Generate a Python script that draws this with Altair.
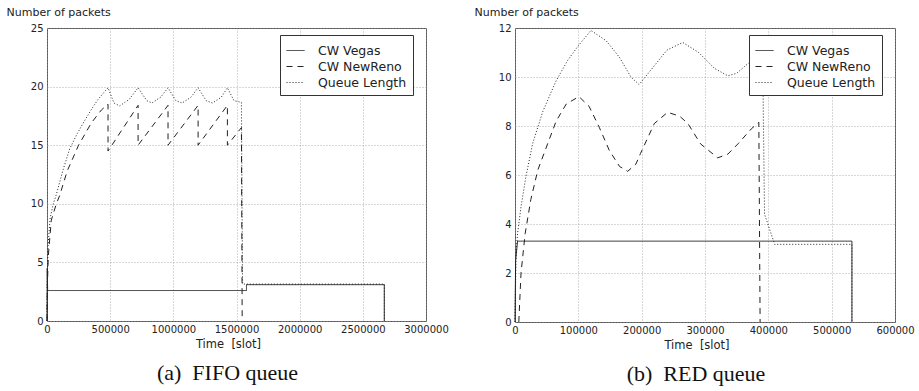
import altair as alt
import pandas as pd

series_names = ["CW Vegas", "CW NewReno", "Queue Length"]

# ---- (a) FIFO queue ----
fifo_vegas_t = [0, 2000, 5000, 1579000, 1579000, 2670000, 2670000]
fifo_vegas_v = [0, 4.5, 2.6, 2.6, 3.1, 3.1, 0]

fifo_reno_t = [0, 3000, 10000, 34000, 74000, 100000, 160000, 250000, 351000, 430000,
               483000, 483000, 721000, 721000, 958000, 958000, 1196000, 1196000,
               1428000, 1428000, 1539000, 1545000]
fifo_reno_v = [0, 3, 5.5, 8.6, 10.0, 10.7, 12.8, 15.0, 16.9, 18.0,
               18.5, 14.5, 18.4, 15.0, 18.4, 15.0, 18.4, 15.0,
               18.4, 15.0, 16.5, 0]

fifo_queue_t = [0, 2000, 8000, 25000, 50000, 74000, 127000, 180000, 240000, 298000,
                360000, 404000, 450000, 483000, 530000, 575000, 650000, 721000,
                790000, 830000, 900000, 958000, 1020000, 1070000, 1140000, 1196000,
                1260000, 1310000, 1380000, 1428000, 1480000, 1539000, 1548000,
                2670000, 2670000]
fifo_queue_v = [0, 3.5, 6.4, 8.8, 10.0, 10.8, 12.9, 14.7, 16.0, 17.1,
                18.2, 18.9, 19.5, 19.9, 18.6, 18.35, 18.9, 19.9,
                18.8, 18.6, 19.1, 19.9, 18.8, 18.6, 19.1, 19.9,
                18.8, 18.6, 19.1, 19.9, 18.8, 18.65, 3.15,
                3.15, 0]

# ---- (b) RED queue ----
red_vegas_t = [0, 1000, 4000, 532000, 532000]
red_vegas_v = [0, 2.5, 3.3, 3.3, 0]

red_reno_t = [6000, 9500, 16000, 25000, 36000, 49000, 65000, 81000, 101000, 117000,
              133000, 149000, 165000, 178000, 191000, 198000, 220000, 241000, 260000,
              273000, 293000, 320000, 336000, 352000, 373000, 385000, 387000]
red_reno_v = [0, 2.0, 3.6, 5.0, 6.2, 7.1, 8.2, 8.9, 9.2, 8.8,
              7.95, 7.0, 6.35, 6.15, 6.45, 6.87, 8.1, 8.56, 8.4,
              8.1, 7.27, 6.7, 6.85, 7.27, 7.88, 8.15, 0]

red_queue_t = [0, 1600, 4000, 9500, 17000, 28000, 44000, 65000, 83000, 100000,
               120000, 144000, 165000, 183000, 196000, 215000, 240000, 265000,
               290000, 315000, 336000, 350000, 367000, 391000, 394000, 410000,
               532000, 532000]
red_queue_v = [0, 2.8, 3.6, 4.7, 5.9, 7.3, 8.6, 9.85, 10.67, 11.28,
               11.9, 11.48, 10.8, 10.0, 9.69, 10.3, 11.1, 11.41,
               11.0, 10.35, 10.05, 10.15, 10.53, 10.9, 4.4, 3.17,
               3.17, 0]

fifo_xticks = [0, 500000, 1000000, 1500000, 2000000, 2500000, 3000000]
fifo_yticks = [0, 5, 10, 15, 20, 25]
red_xticks = [0, 100000, 200000, 300000, 400000, 500000, 600000]
red_yticks = [0, 2, 4, 6, 8, 10, 12]


def make_df(groups):
    rows = []
    for name, ts, vs in groups:
        for i, (t, v) in enumerate(zip(ts, vs)):
            rows.append({"series": name, "t": t, "v": v, "i": i})
    return pd.DataFrame(rows)


fifo_df = make_df([
    ("CW Vegas", fifo_vegas_t, fifo_vegas_v),
    ("CW NewReno", fifo_reno_t, fifo_reno_v),
    ("Queue Length", fifo_queue_t, fifo_queue_v),
])
red_df = make_df([
    ("CW Vegas", red_vegas_t, red_vegas_v),
    ("CW NewReno", red_reno_t, red_reno_v),
    ("Queue Length", red_queue_t, red_queue_v),
])


def panel(df, xticks, yticks, caption, w, h):
    return alt.Chart(df).mark_line(color="#222222", strokeWidth=1).encode(
        x=alt.X("t:Q",
                scale=alt.Scale(domain=[xticks[0], xticks[-1]], nice=False, zero=False),
                axis=alt.Axis(values=xticks, format="d", title="Time\u00a0 [slot]",
                              titleX=w / 2 - 8.5, titleAlign="center",
                              titleFontWeight="normal", titleFontSize=11.5,
                              labelPadding=3, titlePadding=4,
                              labelOverlap=False, labelFlush=False)),
        y=alt.Y("v:Q",
                scale=alt.Scale(domain=[yticks[0], yticks[-1]], nice=False),
                axis=alt.Axis(values=yticks, title="Number of packets",
                              titleFontWeight="normal", titleFontSize=11,
                              titleAngle=0, titleAlign="left", titleBaseline="alphabetic",
                              titleX=-41, titleY=-13, labelPadding=4,
                              labelOverlap=False, labelFlush=False)),
        strokeDash=alt.StrokeDash("series:N",
                                  scale=alt.Scale(domain=series_names,
                                                  range=[[1, 0], [6, 5], [1, 2]]),
                                  legend=alt.Legend(title=None, orient="none",
                                                    legendX=w - 146, legendY=7,
                                                    fillColor="white", strokeColor="#333333",
                                                    padding=6, symbolType="stroke",
                                                    symbolSize=324, symbolStrokeWidth=1,
                                                    symbolStrokeColor="#222222",
                                                    labelFontSize=12.5, labelOffset=13,
                                                    rowPadding=0, labelColor="#222222",
                                                    labelFont="DejaVu Sans")),
        detail="series:N",
        order="i:Q",
    ).properties(
        width=w, height=h,
        title=alt.TitleParams(caption, orient="bottom", anchor="middle", frame="group",
                              font="Liberation Serif", fontSize=22, fontWeight="normal",
                              color="#111111", dx=-9, offset=13),
    )


left = panel(fifo_df, fifo_xticks, fifo_yticks, "(a)\u00a0 FIFO queue", 379, 293)
right = panel(red_df, red_xticks, red_yticks, "(b)\u00a0 RED queue", 380, 294)

chart = alt.hconcat(left, right, spacing=24).resolve_scale(
    strokeDash="independent", x="independent", y="independent"
).resolve_legend(strokeDash="independent").configure_view(
    stroke="#555555", strokeWidth=1
).configure_axis(
    labelFont="DejaVu Sans", labelFontSize=10, labelColor="#222222",
    titleFont="DejaVu Sans", titleColor="#222222",
    ticks=False, domain=False,
    grid=True, gridDash=[1, 2], gridColor="#999999", gridWidth=0.8,
).properties(background="white", padding={"left": 5, "top": 5, "right": 1, "bottom": 5})

chart.save("out.html", embed_options={"renderer": "svg", "actions": False})
